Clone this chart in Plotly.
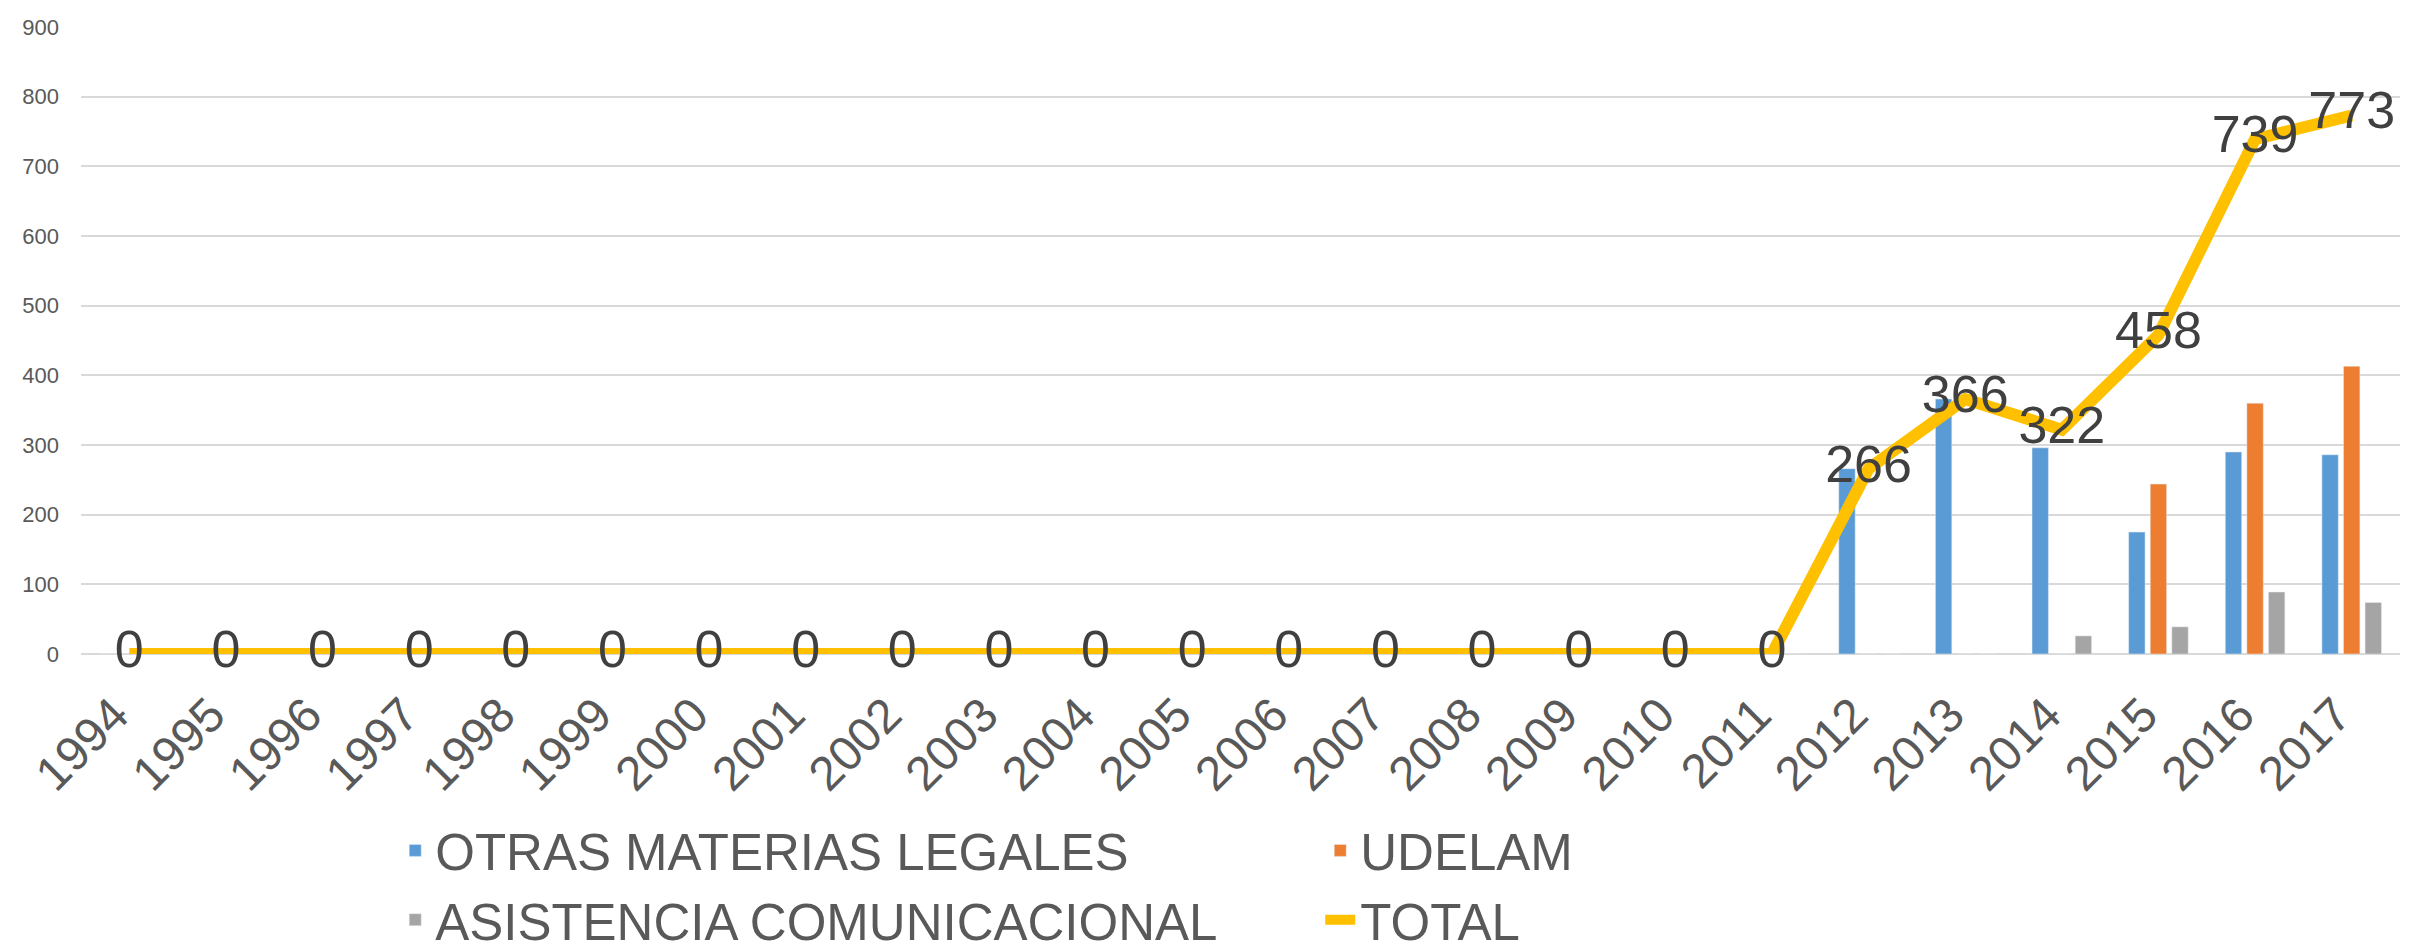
import plotly.graph_objects as go

years = [str(y) for y in range(1994, 2018)]
otras = [0]*18 + [266, 366, 296, 175, 290, 286]
udelam = [0]*18 + [0, 0, 0, 244, 360, 413]
asistencia = [0]*18 + [0, 0, 26, 39, 89, 74]
total = [0]*18 + [266, 366, 322, 458, 739, 773]
y_ticks = [0, 100, 200, 300, 400, 500, 600, 700, 800, 900]

FONT = "Liberation Sans, Arial, sans-serif"

fig = go.Figure()
fig.add_trace(go.Bar(x=years, y=otras, name="OTRAS MATERIAS LEGALES", marker_color="#5B9BD5"))
fig.add_trace(go.Bar(x=years, y=udelam, name="UDELAM", marker_color="#ED7D31"))
fig.add_trace(go.Bar(x=years, y=asistencia, name="ASISTENCIA COMUNICACIONAL", marker_color="#A5A5A5"))
fig.add_trace(go.Scatter(x=years, y=total, name="TOTAL", mode="lines+text",
                         line=dict(color="#FFC000", width=12),
                         text=[str(v) for v in total], textposition="middle center",
                         textfont=dict(family=FONT, size=52, color="#404040"),
                         cliponaxis=False))

fig.update_layout(
    width=2414, height=952,
    margin=dict(l=73, r=22, t=19, b=306, autoexpand=False),
    paper_bgcolor="white", plot_bgcolor="white",
    barmode="group", bargap=0.33, bargroupgap=0.24,
    hovermode=False,
    font=dict(family=FONT, color="#595959"),
    legend=dict(orientation="h", x=0.1355, xanchor="left", y=-0.25, yanchor="top",
                entrywidth=880, entrywidthmode="pixels",
                font=dict(family=FONT, size=51, color="#595959"),
                traceorder="normal", itemwidth=30),
    xaxis=dict(type="category", range=[-0.5, 23.5], tickangle=-45, showgrid=False,
               showline=False, ticks="", ticklabelstandoff=22, ticklabelshift=-15,
               automargin=False,
               tickfont=dict(family=FONT, size=48, color="#595959")),
    yaxis=dict(range=[0, 900], tickvals=y_ticks, showgrid=True, gridcolor="#D9D9D9",
               gridwidth=2, zeroline=True, zerolinecolor="#D9D9D9", zerolinewidth=2,
               ticks="", ticklabelstandoff=21, automargin=False,
               tickfont=dict(family=FONT, size=22, color="#595959")),
)

fig.write_html("out.html")
